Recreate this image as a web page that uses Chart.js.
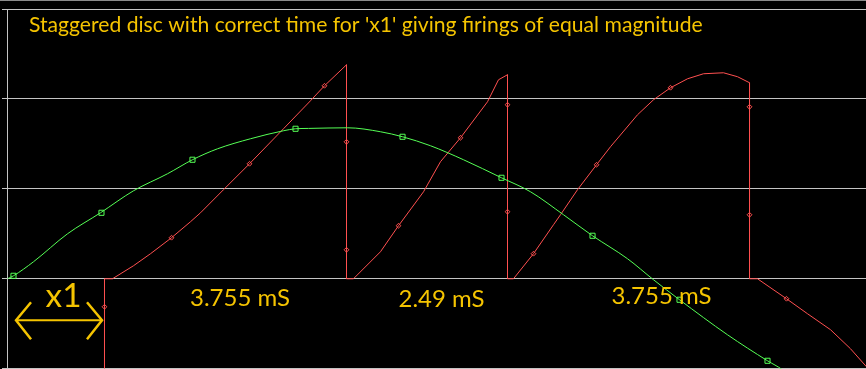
<!DOCTYPE html>
<html><head><meta charset="utf-8">
<script src="https://cdn.jsdelivr.net/npm/chart.js@4.4.1/dist/chart.umd.min.js"></script>
<style>html,body{margin:0;padding:0;background:#000;overflow:hidden}#wrap{width:866px;height:369px;position:relative}canvas{display:block}</style>
</head><body><div id="wrap"><canvas id="c" width="866" height="369"></canvas></div>
<script>
// time axis in ms, amplitude in arbitrary units
const greenX = [0, 0.093, 0.403, 0.931, 1.443, 1.955, 2.483, 2.870, 3.259, 3.771, 4.282, 4.469, 4.670, 5.276, 5.787, 6.129, 6.563, 7.075, 7.665, 8.115, 8.627, 9.077, 9.620, 10.023, 10.427, 11.171, 11.792, 12.025, 12.20];
const greenY = [0, 0.033, 0.189, 0.501, 0.735, 0.980, 1.170, 1.326, 1.448, 1.560, 1.649, 1.671, 1.675, 1.682, 1.638, 1.582, 1.482, 1.326, 1.125, 0.969, 0.713, 0.479, 0.223, -0.011, -0.234, -0.624, -0.914, -1.014, -1.12];
const greenMarkX = [0.093, 1.458, 2.870, 4.469, 6.129, 7.665, 9.077, 10.427, 11.792];
const greenMarkY = [0.033, 0.735, 1.326, 1.671, 1.582, 1.125, 0.479, -0.234, -0.914];

const redX = [1.505, 1.505, 1.629, 1.955, 2.219, 2.545, 2.839, 2.995, 3.351, 3.755, 4.282, 4.701, 4.918, 5.260, 5.260, 5.368, 5.787, 6.067, 6.455, 6.718, 7.029, 7.448, 7.618, 7.758, 7.758, 7.851, 8.161, 8.472, 8.580, 8.844, 9.139, 9.356, 9.775, 10.023, 10.287, 10.551, 10.799, 11.109, 11.327, 11.513, 11.513, 11.637, 12.087, 12.413, 12.770, 13.080, 13.328];
const redY = [-1.1, 0, 0, 0.145, 0.279, 0.457, 0.635, 0.735, 0.992, 1.281, 1.671, 1.983, 2.150, 2.384, 0, 0, 0.301, 0.591, 0.969, 1.304, 1.571, 1.972, 2.217, 2.273, 0, 0, 0.279, 0.602, 0.713, 0.992, 1.270, 1.471, 1.827, 1.994, 2.128, 2.228, 2.284, 2.295, 2.251, 2.184, 0, 0, -0.223, -0.390, -0.568, -0.780, -0.981];
const redMarkX = [1.505, 2.545, 3.755, 4.918, 5.260, 5.260, 6.067, 7.029, 7.758, 7.758, 8.161, 9.139, 10.287, 11.513, 11.513, 12.087];
const redMarkY = [-0.312, 0.457, 1.281, 2.150, 1.526, 0.323, 0.591, 1.571, 1.939, 0.747, 0.279, 1.270, 2.128, 1.916, 0.713, -0.223];

const yTicks = [-1, 0, 1, 2, 3];
const titleText = "Staggered disc with correct time for 'x1' giving firings of equal magnitude";
const labelTexts = ["x1", "3.755 mS", "2.49 mS", "3.755 mS"];
const labelX = [0.877, 3.615, 6.742, 10.155];
const labelY = [-0.323, -0.312, -0.323, -0.290];
const arrowX = [0.140, 1.474];
const arrowY = -0.468;

const pts = (xs, ys) => xs.map((x, i) => ({x, y: ys[i]}));
const GREEN = '#55ff55', RED = '#ff5050', GRID = '#c4c4c4', TEXT = '#f5c400';
const FONT = 'Lato, "Open Sans", sans-serif';

function fitFont(ctx, text, width, weight) {
  ctx.font = weight + ' 20px ' + FONT;
  const w = ctx.measureText(text).width;
  return 20 * width / w;
}

const annot = {
  id: 'annot',
  beforeDraw(chart) {
    const ctx = chart.ctx;
    ctx.save();
    ctx.fillStyle = '#8a8a8a';
    ctx.fillRect(0, 0, chart.width, 1);
    ctx.restore();
  },
  beforeDatasetsDraw(chart) {
    chart.ctx.save();
    chart.ctx.translate(0.5, 0.5);
  },
  afterDatasetsDraw(chart) {
    chart.ctx.restore();
    const ctx = chart.ctx, xs = chart.scales.x, ys = chart.scales.y;
    ctx.save();
    ctx.fillStyle = TEXT;
    ctx.textBaseline = 'alphabetic';
    let sz = fitFont(ctx, titleText, 674, '400');
    ctx.font = '400 ' + sz + 'px ' + FONT;
    ctx.textAlign = 'left';
    ctx.fillText(titleText, xs.getPixelForValue(0.341), ys.getPixelForValue(2.741));
    const widths = [36, 100, 86, 100];
    ctx.textAlign = 'center';
    labelTexts.forEach((t, i) => {
      const s = fitFont(ctx, t, widths[i], '400');
      ctx.font = '400 ' + s + 'px ' + FONT;
      ctx.fillText(t, xs.getPixelForValue(labelX[i]), ys.getPixelForValue(labelY[i]));
    });
    const x0 = xs.getPixelForValue(arrowX[0]), x1 = xs.getPixelForValue(arrowX[1]), y = ys.getPixelForValue(arrowY);
    ctx.strokeStyle = TEXT;
    ctx.lineWidth = 2;
    ctx.beginPath(); ctx.moveTo(x0, y); ctx.lineTo(x1, y); ctx.stroke();
    ctx.lineWidth = 2.5;
    ctx.beginPath();
    ctx.moveTo(x0 + 15, y - 18); ctx.lineTo(x0, y); ctx.lineTo(x0 + 15, y + 19);
    ctx.moveTo(x1 - 15, y - 18); ctx.lineTo(x1, y); ctx.lineTo(x1 - 15, y + 19);
    ctx.stroke();
    ctx.restore();
  }
};

new Chart(document.getElementById('c'), {
  type: 'scatter',
  data: {
    datasets: [
      {data: pts(greenX, greenY), showLine: true, borderColor: GREEN, borderWidth: 1, pointRadius: 0, cubicInterpolationMode: 'monotone'},
      {data: pts(redX, redY), showLine: true, borderColor: RED, borderWidth: 1, pointRadius: 0, tension: 0},
      {data: pts(greenMarkX, greenMarkY), showLine: false, borderColor: GREEN, backgroundColor: 'rgba(0,0,0,0)', pointStyle: 'rect', pointRadius: 3.6, borderWidth: 1},
      {data: pts(redMarkX, redMarkY), showLine: false, borderColor: RED, backgroundColor: 'rgba(0,0,0,0)', pointStyle: 'rectRot', pointRadius: 2.4, borderWidth: 1}
    ]
  },
  options: {
    responsive: false,
    animation: false,
    devicePixelRatio: 1,
    layout: {autoPadding: false, padding: {left: 2, top: 9, right: 0, bottom: 1}},
    plugins: {legend: {display: false}, title: {display: false}, tooltip: {enabled: false}},
    scales: {
      x: {type: 'linear', min: 0, max: 13.328, display: false},
      y: {
        type: 'linear', min: -1, max: 3,
        afterBuildTicks: s => { s.ticks = yTicks.map(v => ({value: v})); },
        ticks: {display: false},
        grid: {color: GRID, lineWidth: 1, drawTicks: true, tickLength: 5},
        border: {display: true, color: GRID, width: 1}
      }
    }
  },
  plugins: [annot]
});
</script>
</body></html>
